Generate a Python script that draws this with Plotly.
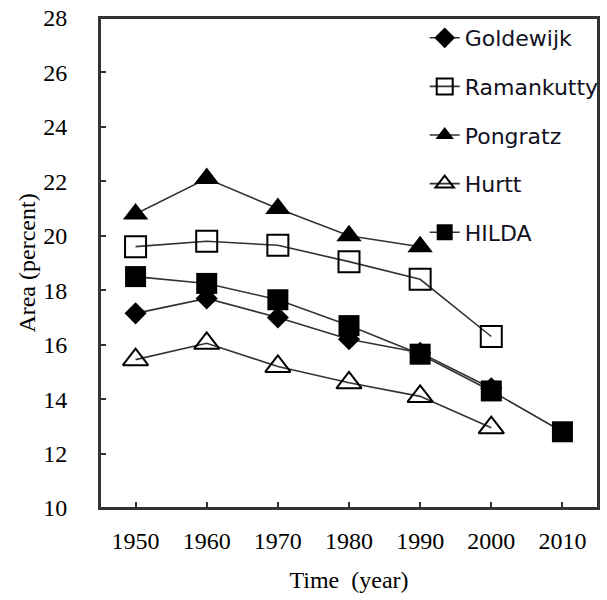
import plotly.graph_objects as go

years = [1950, 1960, 1970, 1980, 1990, 2000, 2010]

goldewijk_x = [1950, 1960, 1970, 1980, 1990, 2000]
goldewijk_y = [17.15, 17.7, 17.0, 16.2, 15.7, 14.4]

ramankutty_x = [1950, 1960, 1970, 1980, 1990, 2000]
ramankutty_y = [19.6, 19.8, 19.65, 19.05, 18.4, 16.3]

pongratz_x = [1950, 1960, 1970, 1980, 1990]
pongratz_y = [20.8, 22.1, 21.0, 20.0, 19.6]

hurtt_x = [1950, 1960, 1970, 1980, 1990, 2000]
hurtt_y = [15.45, 16.05, 15.2, 14.6, 14.1, 12.95]

hilda_x = [1950, 1960, 1970, 1980, 1990, 2000, 2010]
hilda_y = [18.5, 18.25, 17.65, 16.7, 15.65, 14.3, 12.8]

y_ticks = [10, 12, 14, 16, 18, 20, 22, 24, 26, 28]

line_color = "#333333"

series = [
    ("Goldewijk", goldewijk_x, goldewijk_y, dict(symbol="diamond", size=17, color="black", line=dict(width=0))),
    ("Ramankutty", ramankutty_x, ramankutty_y, dict(symbol="square-open", size=21, color="black", line=dict(width=2))),
    ("Pongratz", pongratz_x, pongratz_y, dict(symbol="triangle-up", size=22, color="black", line=dict(width=0))),
    ("Hurtt", hurtt_x, hurtt_y, dict(symbol="triangle-up-open", size=22, color="black", line=dict(width=2))),
    ("HILDA", hilda_x, hilda_y, dict(symbol="square", size=21, color="black", line=dict(width=0))),
]

fig = go.Figure()
for i, (name, xs, ys, mk) in enumerate(series):
    fig.add_trace(go.Scatter(
        x=xs, y=ys, name=name, mode="lines+markers",
        line=dict(color=line_color, width=1.6),
        marker=mk, legendgroup=name,
    ))

axis_font = dict(family="Liberation Serif", size=24, color="black")

fig.update_layout(
    width=607, height=600,
    margin=dict(l=100, r=3, t=18, b=92),
    paper_bgcolor="white", plot_bgcolor="white",
    showlegend=True,
    legend=dict(
        x=0.652, y=1.002, xanchor="left", yanchor="top",
        font=dict(family="DejaVu Sans", size=22, color="#111122"),
        bgcolor="rgba(0,0,0,0)", borderwidth=0,
        traceorder="grouped", tracegroupgap=17,
    ),
    shapes=[dict(type="rect", xref="paper", yref="paper", x0=0, x1=1, y0=0, y1=1,
                 line=dict(color="#333", width=2), fillcolor="rgba(0,0,0,0)", layer="above")],
    xaxis=dict(
        range=[1945, 2015], tickvals=years, ticktext=[str(y) for y in years],
        ticks="inside", ticklen=6, tickcolor="#333", tickwidth=1.5,
        showline=True, linecolor="#333", linewidth=2, mirror=True,
        showgrid=False, zeroline=False, tickfont=axis_font,
        ticklabelstandoff=10, automargin=False,
        title=dict(text="Time  (year)", font=dict(family="Liberation Serif", size=24, color="black"), standoff=18),
    ),
    yaxis=dict(
        range=[10, 28], tickvals=y_ticks,
        ticks="inside", ticklen=6, tickcolor="#333", tickwidth=1.5,
        showline=True, linecolor="#333", linewidth=2, mirror=True,
        showgrid=False, zeroline=False, tickfont=axis_font,
        ticklabelstandoff=26, automargin=False,
        title=dict(text="Area (percent)", font=dict(family="Liberation Serif", size=24, color="black"), standoff=1),
    ),
)

fig.write_html("out.html", config={"displayModeBar": False, "responsive": False},
               post_script="document.body.style.margin='0';document.body.style.overflow='hidden';")
